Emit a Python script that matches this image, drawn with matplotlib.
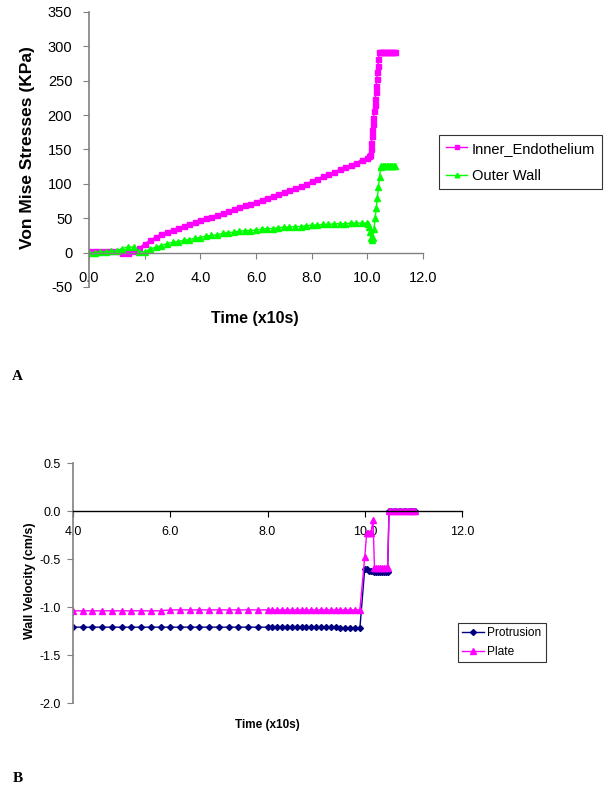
import numpy as np
import matplotlib
matplotlib.use('Agg')
from matplotlib import pyplot as plt

plt.rcParams['font.family'] = ['Liberation Sans', 'DejaVu Sans']
plt.rcParams['axes.unicode_minus'] = False

# ---- panel A : Von Mise stresses ----
time_a = [0.0, 0.2, 0.4, 0.6, 0.8, 1.0, 1.2, 1.4, 1.6, 1.8,
          2.0, 2.2, 2.4, 2.6, 2.8, 3.0, 3.2, 3.4, 3.6, 3.8,
          4.0, 4.2, 4.4, 4.6, 4.8, 5.0, 5.2, 5.4, 5.6, 5.8,
          6.0, 6.2, 6.4, 6.6, 6.8, 7.0, 7.2, 7.4, 7.6, 7.8,
          8.0, 8.2, 8.4, 8.6, 8.8, 9.0, 9.2, 9.4, 9.6, 9.8, 10.0]
inner = [2, 2, 2, 2, 2, 2, 0, 0, 2, 7,
         13, 18, 23, 27, 30, 33, 36, 39, 42, 44,
         47, 50, 52, 55, 58, 60, 63, 66, 69, 71,
         74, 77, 80, 82, 85, 88, 91, 94, 97, 100,
         104, 107, 111, 114, 117, 121, 124, 128, 131, 135, 138]
outer = [0, 0, 1, 1, 2, 3, 6, 8, 8, 1,
         1, 5, 8, 10, 13, 15, 16, 18, 19, 21,
         22, 24, 25, 26, 28, 29, 30, 31, 32, 32,
         33, 34, 35, 35, 36, 37, 37, 38, 38, 39,
         40, 40, 41, 41, 42, 42, 42, 43, 43, 43, 43]

# tails after t=10 (finer sampling)
inner_tail_t = [10.05, 10.1, 10.12, 10.14, 10.16, 10.18, 10.2, 10.22, 10.24, 10.26,
                10.28, 10.3, 10.32, 10.34, 10.36, 10.38, 10.4, 10.42,
                10.45, 10.5, 10.55, 10.6, 10.65, 10.7, 10.75, 10.8, 10.85, 10.9, 10.95, 11.0]
inner_tail = [140, 142, 151, 160, 169, 178, 187, 196, 206, 215,
              224, 233, 243, 252, 262, 272, 282, 292,
              292, 292, 292, 292, 292, 292, 292, 292, 292, 292, 292, 292]
outer_tail_t = [10.02, 10.06, 10.1, 10.14, 10.18, 10.2, 10.24, 10.28, 10.32, 10.36,
                10.4, 10.44, 10.48, 10.5, 10.55, 10.6, 10.65, 10.7, 10.75, 10.8,
                10.85, 10.9, 10.95, 11.0]
outer_tail = [42, 38, 30, 22, 19, 22, 35, 50, 65, 80,
              95, 110, 124, 126, 126, 126, 126, 126, 126, 126,
              126, 126, 126, 126]

# ---- panel B : wall velocity ----
time_b = [4.0, 4.2, 4.4, 4.6, 4.8, 5.0, 5.2, 5.4, 5.6, 5.8,
          6.0, 6.2, 6.4, 6.6, 6.8, 7.0, 7.2, 7.4, 7.6, 7.8,
          8.0, 8.1, 8.2, 8.3, 8.4, 8.5, 8.6, 8.7, 8.8, 8.9,
          9.0, 9.1, 9.2, 9.3, 9.4, 9.5, 9.6, 9.7, 9.8, 9.9]
protrusion = [-1.21, -1.21, -1.21, -1.21, -1.21, -1.21, -1.21, -1.21, -1.21, -1.21,
              -1.21, -1.21, -1.21, -1.21, -1.21, -1.21, -1.21, -1.21, -1.21, -1.21,
              -1.21, -1.21, -1.21, -1.21, -1.21, -1.21, -1.21, -1.21, -1.21, -1.21,
              -1.21, -1.21, -1.21, -1.21, -1.21, -1.22, -1.22, -1.22, -1.22, -1.22]
plate = [-1.04, -1.04, -1.04, -1.04, -1.04, -1.04, -1.04, -1.04, -1.04, -1.04,
         -1.03, -1.03, -1.03, -1.03, -1.03, -1.03, -1.03, -1.03, -1.03, -1.03,
         -1.03, -1.03, -1.03, -1.03, -1.03, -1.03, -1.03, -1.03, -1.03, -1.03,
         -1.03, -1.03, -1.03, -1.03, -1.03, -1.03, -1.03, -1.03, -1.03, -1.03]

protrusion_tail_t = [10.0, 10.04, 10.08, 10.12, 10.16, 10.2, 10.24, 10.28, 10.32, 10.36,
                     10.4, 10.44, 10.47, 10.5, 10.55, 10.6, 10.65, 10.7, 10.75, 10.8,
                     10.85, 10.9, 10.95, 11.0, 11.04]
protrusion_tail = [-0.60, -0.60, -0.62, -0.63, -0.63, -0.64, -0.64, -0.64, -0.64, -0.64,
                   -0.64, -0.64, -0.64, 0.0, 0.0, 0.0, 0.0, 0.0, 0.0, 0.0,
                   0.0, 0.0, 0.0, 0.0, 0.0]
plate_tail_t = [10.0, 10.04, 10.07, 10.1, 10.13, 10.17, 10.2, 10.24, 10.28, 10.32,
                10.36, 10.4, 10.44, 10.47, 10.5, 10.55, 10.6, 10.65, 10.7, 10.75,
                10.8, 10.85, 10.9, 10.95, 11.0, 11.04]
plate_tail = [-0.48, -0.23, -0.23, -0.23, -0.23, -0.09, -0.59, -0.59, -0.59, -0.59,
              -0.59, -0.59, -0.59, -0.59, 0.0, 0.0, 0.0, 0.0, 0.0, 0.0,
              0.0, 0.0, 0.0, 0.0, 0.0, 0.0]

W, H = 607, 789
fig = plt.figure(figsize=(W / 100, H / 100), dpi=100)
grey = '#808080'


def style_axes(ax, xaxis_color):
    ax.spines['top'].set_visible(False)
    ax.spines['right'].set_visible(False)
    ax.spines['bottom'].set_position(('data', 0))
    ax.spines['left'].set_color(grey)
    ax.spines['bottom'].set_color(xaxis_color)
    ax.spines['left'].set_linewidth(1.2)
    ax.spines['bottom'].set_linewidth(1.0)
    ax.tick_params(axis='y', direction='out', length=4, color=grey)
    ax.tick_params(axis='x', direction='out', length=4, color=xaxis_color)


# panel A
axA = fig.add_axes([89 / W, 1 - 287 / H, (423 - 89) / W, (287 - 12) / H])
axA.plot(time_a + inner_tail_t, inner + inner_tail, color='#FF00FF', lw=1,
         marker='s', ms=3.6, mec='#FF00FF', label='Inner_Endothelium')
axA.plot(time_a + outer_tail_t, outer + outer_tail, color='#00FF00', lw=1,
         marker='^', ms=4.2, mec='#00FF00', label='Outer Wall')
axA.set_xlim(0, 12)
axA.set_ylim(-50, 350)
axA.set_xticks([0, 2, 4, 6, 8, 10, 12])
axA.set_xticklabels(['0.0', '2.0', '4.0', '6.0', '8.0', '10.0', '12.0'])
axA.set_yticks([-50, 0, 50, 100, 150, 200, 250, 300, 350])
style_axes(axA, grey)
axA.tick_params(axis='x', labelsize=10.5, pad=9)
axA.tick_params(axis='y', labelsize=10.5, pad=8)
fig.text(28 / W, 1 - 148 / H, 'Von Mise Stresses (KPa)', rotation=90,
         ha='center', va='center', fontsize=12.5, fontweight='bold')
fig.text(255 / W, 1 - 318 / H, 'Time (x10s)', ha='center', va='center',
         fontsize=11.5, fontweight='bold')
legA = axA.legend(loc='upper left', bbox_to_anchor=(439 / W, 1 - 135 / H),
                  bbox_transform=fig.transFigure, fontsize=10.5, frameon=True,
                  fancybox=False, edgecolor='black', handlelength=1.5,
                  borderaxespad=0, borderpad=0.45, labelspacing=0.9,
                  handletextpad=0.3, markerscale=0.8)
legA.get_frame().set_linewidth(0.8)
fig.text(12 / W, 1 - 376 / H, 'A', family='Liberation Serif', fontweight='bold',
         fontsize=11, ha='left', va='center')

# panel B
axB = fig.add_axes([73 / W, 1 - 703 / H, (462 - 73) / W, (703 - 463) / H])
axB.plot(time_b + protrusion_tail_t, protrusion + protrusion_tail, color='#000080',
         lw=1, marker='D', ms=3, mec='#000080', label='Protrusion')
axB.plot(time_b + plate_tail_t, plate + plate_tail, color='#FF00FF', lw=1,
         marker='^', ms=4, mec='#FF00FF', label='Plate')
axB.set_xlim(4, 12)
axB.set_ylim(-2.0, 0.5)
axB.set_xticks([4, 6, 8, 10, 12])
axB.set_xticklabels(['4.0', '6.0', '8.0', '10.0', '12.0'])
axB.set_yticks([-2.0, -1.5, -1.0, -0.5, 0.0, 0.5])
axB.set_yticklabels(['-2.0', '-1.5', '-1.0', '-0.5', '0.0', '0.5'])
style_axes(axB, 'black')
axB.tick_params(axis='x', labelsize=9, pad=7)
axB.tick_params(axis='y', labelsize=9, pad=5)
fig.text(30 / W, 1 - 581 / H, 'Wall Velocity (cm/s)', rotation=90,
         ha='center', va='center', fontsize=9, fontweight='bold')
fig.text(267 / W, 1 - 725 / H, 'Time (x10s)', ha='center', va='center',
         fontsize=8.5, fontweight='bold')
legB = axB.legend(loc='upper left', bbox_to_anchor=(458 / W, 1 - 623 / H),
                  bbox_transform=fig.transFigure, fontsize=8.6, frameon=True,
                  fancybox=False, edgecolor='black', handlelength=1.8,
                  borderaxespad=0, borderpad=0.35, labelspacing=0.55,
                  handletextpad=0.3)
legB.get_frame().set_linewidth(0.8)
fig.text(13 / W, 1 - 778 / H, 'B', family='Liberation Serif', fontweight='bold',
         fontsize=11, ha='left', va='center')

fig.savefig('out.png', dpi=100)
